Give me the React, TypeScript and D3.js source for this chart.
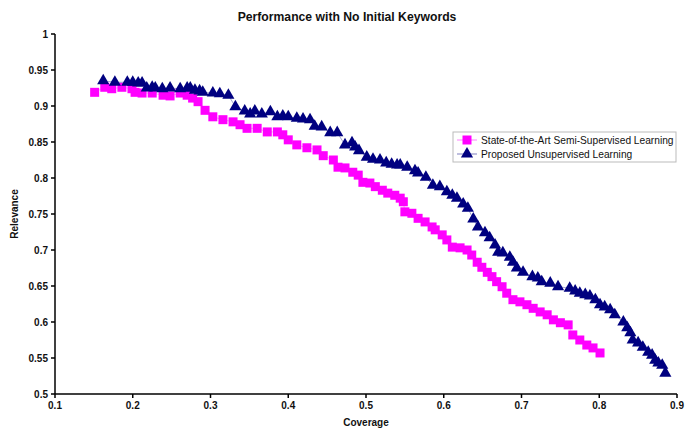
import * as d3 from "d3";

// State-of-the-Art Semi-Supervised Learning (squares)
const semiX = [
  0.151, 0.164, 0.173, 0.186, 0.199, 0.203, 0.212, 0.225, 0.239, 0.248, 0.261, 0.27, 0.277, 0.284,
  0.293, 0.303, 0.316, 0.329, 0.338, 0.347, 0.36, 0.373, 0.386, 0.393, 0.4, 0.411, 0.424, 0.437,
  0.445, 0.458, 0.464, 0.473, 0.483, 0.49, 0.496, 0.505, 0.512, 0.521, 0.528, 0.537, 0.544, 0.548,
  0.55, 0.559, 0.567, 0.576, 0.585, 0.589, 0.598, 0.604, 0.611, 0.621, 0.63, 0.636, 0.643, 0.649,
  0.656, 0.662, 0.668, 0.675, 0.681, 0.689, 0.698, 0.707, 0.715, 0.724, 0.733, 0.741, 0.75, 0.76,
  0.766, 0.775, 0.784, 0.792, 0.801,
];
const semiY = [
  0.919, 0.926, 0.924, 0.926, 0.924, 0.919, 0.918, 0.918, 0.915, 0.914, 0.918, 0.915, 0.911, 0.906,
  0.894, 0.885, 0.881, 0.878, 0.874, 0.869, 0.869, 0.864, 0.864, 0.86, 0.853, 0.846, 0.842, 0.839,
  0.831, 0.825, 0.815, 0.814, 0.808, 0.804, 0.794, 0.793, 0.788, 0.783, 0.779, 0.776, 0.772, 0.767,
  0.753, 0.751, 0.744, 0.739, 0.732, 0.728, 0.721, 0.714, 0.704, 0.703, 0.7, 0.693, 0.683, 0.676,
  0.669, 0.663, 0.656, 0.649, 0.64, 0.631, 0.628, 0.624, 0.619, 0.614, 0.61, 0.603, 0.599, 0.596,
  0.582, 0.575, 0.568, 0.564, 0.557,
];

// Proposed Unsupervised Learning (triangles)
const unsupX = [
  0.162, 0.177, 0.193, 0.2, 0.207, 0.212, 0.218, 0.225, 0.229, 0.238, 0.248, 0.261, 0.27, 0.274,
  0.28, 0.286, 0.29, 0.303, 0.312, 0.323, 0.332, 0.344, 0.351, 0.357, 0.366, 0.377, 0.386, 0.393,
  0.4, 0.411, 0.419, 0.428, 0.434, 0.443, 0.454, 0.463, 0.473, 0.482, 0.486, 0.491, 0.501, 0.509,
  0.518, 0.526, 0.533, 0.54, 0.544, 0.553, 0.563, 0.567, 0.577, 0.586, 0.595, 0.604, 0.611, 0.617,
  0.625, 0.631, 0.638, 0.644, 0.653, 0.659, 0.666, 0.67, 0.676, 0.685, 0.689, 0.694, 0.702, 0.714,
  0.721, 0.726, 0.737, 0.747, 0.762, 0.769, 0.775, 0.782, 0.788, 0.795, 0.801, 0.807, 0.814, 0.82,
  0.831, 0.836, 0.84, 0.843, 0.85, 0.856, 0.863, 0.868, 0.872, 0.876, 0.881, 0.885,
];
const unsupY = [
  0.935, 0.933, 0.933, 0.933, 0.932, 0.932, 0.925, 0.926, 0.925, 0.924, 0.925, 0.924, 0.925, 0.925,
  0.922, 0.921, 0.919, 0.918, 0.917, 0.915, 0.899, 0.893, 0.889, 0.893, 0.889, 0.892, 0.885, 0.886,
  0.885, 0.883, 0.882, 0.881, 0.872, 0.871, 0.863, 0.863, 0.846, 0.849, 0.843, 0.838, 0.829, 0.826,
  0.825, 0.821, 0.819, 0.818, 0.818, 0.815, 0.81, 0.807, 0.801, 0.79, 0.788, 0.781, 0.776, 0.772,
  0.764, 0.758, 0.743, 0.732, 0.724, 0.717, 0.707, 0.697, 0.696, 0.69, 0.683, 0.675, 0.669, 0.663,
  0.661, 0.656, 0.654, 0.649, 0.647, 0.643, 0.64, 0.638, 0.636, 0.631, 0.624, 0.621, 0.617, 0.61,
  0.6, 0.592, 0.585, 0.575, 0.571, 0.565, 0.558, 0.554, 0.547, 0.543, 0.54, 0.529,
];

const xTicks = [0.1, 0.2, 0.3, 0.4, 0.5, 0.6, 0.7, 0.8, 0.9];
const yTicks = [0.5, 0.55, 0.6, 0.65, 0.7, 0.75, 0.8, 0.85, 0.9, 0.95, 1];
const seriesNames = ["State-of-the-Art Semi-Supervised Learning", "Proposed Unsupervised Learning"];

const W = 695;
const H = 428;
const PLOT = { left: 55, right: 677, top: 34, bottom: 394 };
const MAGENTA = "#ff00ff";
const NAVY = "#000080";
const FONT = "'Liberation Sans', Arial, sans-serif";

type Pt = { x: number; y: number };

export default function App() {
  const x = d3.scaleLinear().domain([0.1, 0.9]).range([PLOT.left, PLOT.right]);
  const y = d3.scaleLinear().domain([0.5, 1]).range([PLOT.bottom, PLOT.top]);

  const semi: Pt[] = semiX.map((v, i) => ({ x: v, y: semiY[i] }));
  const unsup: Pt[] = unsupX.map((v, i) => ({ x: v, y: unsupY[i] }));

  const line = d3
    .line<Pt>()
    .x((d) => x(d.x))
    .y((d) => y(d.y));

  const square = d3.symbol(d3.symbolSquare, 81)() as string;
  const triangle = d3.symbol(d3.symbolTriangle, 64)() as string;

  const series = [
    { name: seriesNames[0], data: semi, color: MAGENTA, shape: square },
    { name: seriesNames[1], data: unsup, color: NAVY, shape: triangle },
  ];

  return (
    <div style={{ position: "fixed", left: 0, top: 0 }}>
      <svg width={W} height={H} style={{ display: "block", background: "#fff" }} fontFamily={FONT}>
        <text x={347} y={21} textAnchor="middle" fontSize={12.2} fontWeight="bold" fill="#111">
          Performance with No Initial Keywords
        </text>

        {/* series */}
        {series.map((s) => (
          <g key={s.name}>
            <path d={line(s.data) ?? ""} fill="none" stroke={s.color} strokeOpacity={0.35} strokeWidth={1} />
            {s.data.map((d, i) => (
              <path key={i} d={s.shape} transform={`translate(${x(d.x)},${y(d.y)})`} fill={s.color} />
            ))}
          </g>
        ))}

        {/* y axis */}
        <line x1={PLOT.left} x2={PLOT.left} y1={PLOT.top} y2={PLOT.bottom} stroke="#000" strokeWidth={1.5} />
        {yTicks.map((t) => (
          <g key={t} transform={`translate(${PLOT.left},${y(t)})`}>
            <line x1={-4} x2={0} stroke="#000" strokeWidth={1.5} />
            <text x={-7} dy="0.35em" textAnchor="end" fontSize={10} fontWeight="bold" fill="#111">
              {d3.format("~g")(t)}
            </text>
          </g>
        ))}

        {/* x axis */}
        <line x1={PLOT.left} x2={PLOT.right} y1={PLOT.bottom} y2={PLOT.bottom} stroke="#000" strokeWidth={1.5} />
        {xTicks.map((t) => (
          <g key={t} transform={`translate(${x(t)},${PLOT.bottom})`}>
            <line y1={0} y2={4} stroke="#000" strokeWidth={1.5} />
            <text y={15} textAnchor="middle" fontSize={10} fontWeight="bold" fill="#111">
              {t.toFixed(1)}
            </text>
          </g>
        ))}

        <text x={366} y={426} textAnchor="middle" fontSize={10} fontWeight="bold" fill="#111">
          Coverage
        </text>
        <text
          transform={`translate(18,${(PLOT.top + PLOT.bottom) / 2}) rotate(-90)`}
          textAnchor="middle"
          fontSize={10}
          fontWeight="bold"
          fill="#111"
        >
          Relevance
        </text>

        {/* legend */}
        <g transform="translate(453,132)">
          <rect x={0} y={0} width={223} height={30} fill="#fff" stroke="#bbb" strokeWidth={1} />
          {series.map((s, i) => (
            <g key={s.name} transform={`translate(0,${8 + i * 14})`}>
              <line x1={4} x2={24} stroke={s.color} strokeOpacity={0.5} strokeWidth={1} />
              <path d={s.shape} transform="translate(14,0)" fill={s.color} />
              <text x={28} dy="0.35em" fontSize={10.2} fill="#111">
                {s.name}
              </text>
            </g>
          ))}
        </g>
      </svg>
    </div>
  );
}
